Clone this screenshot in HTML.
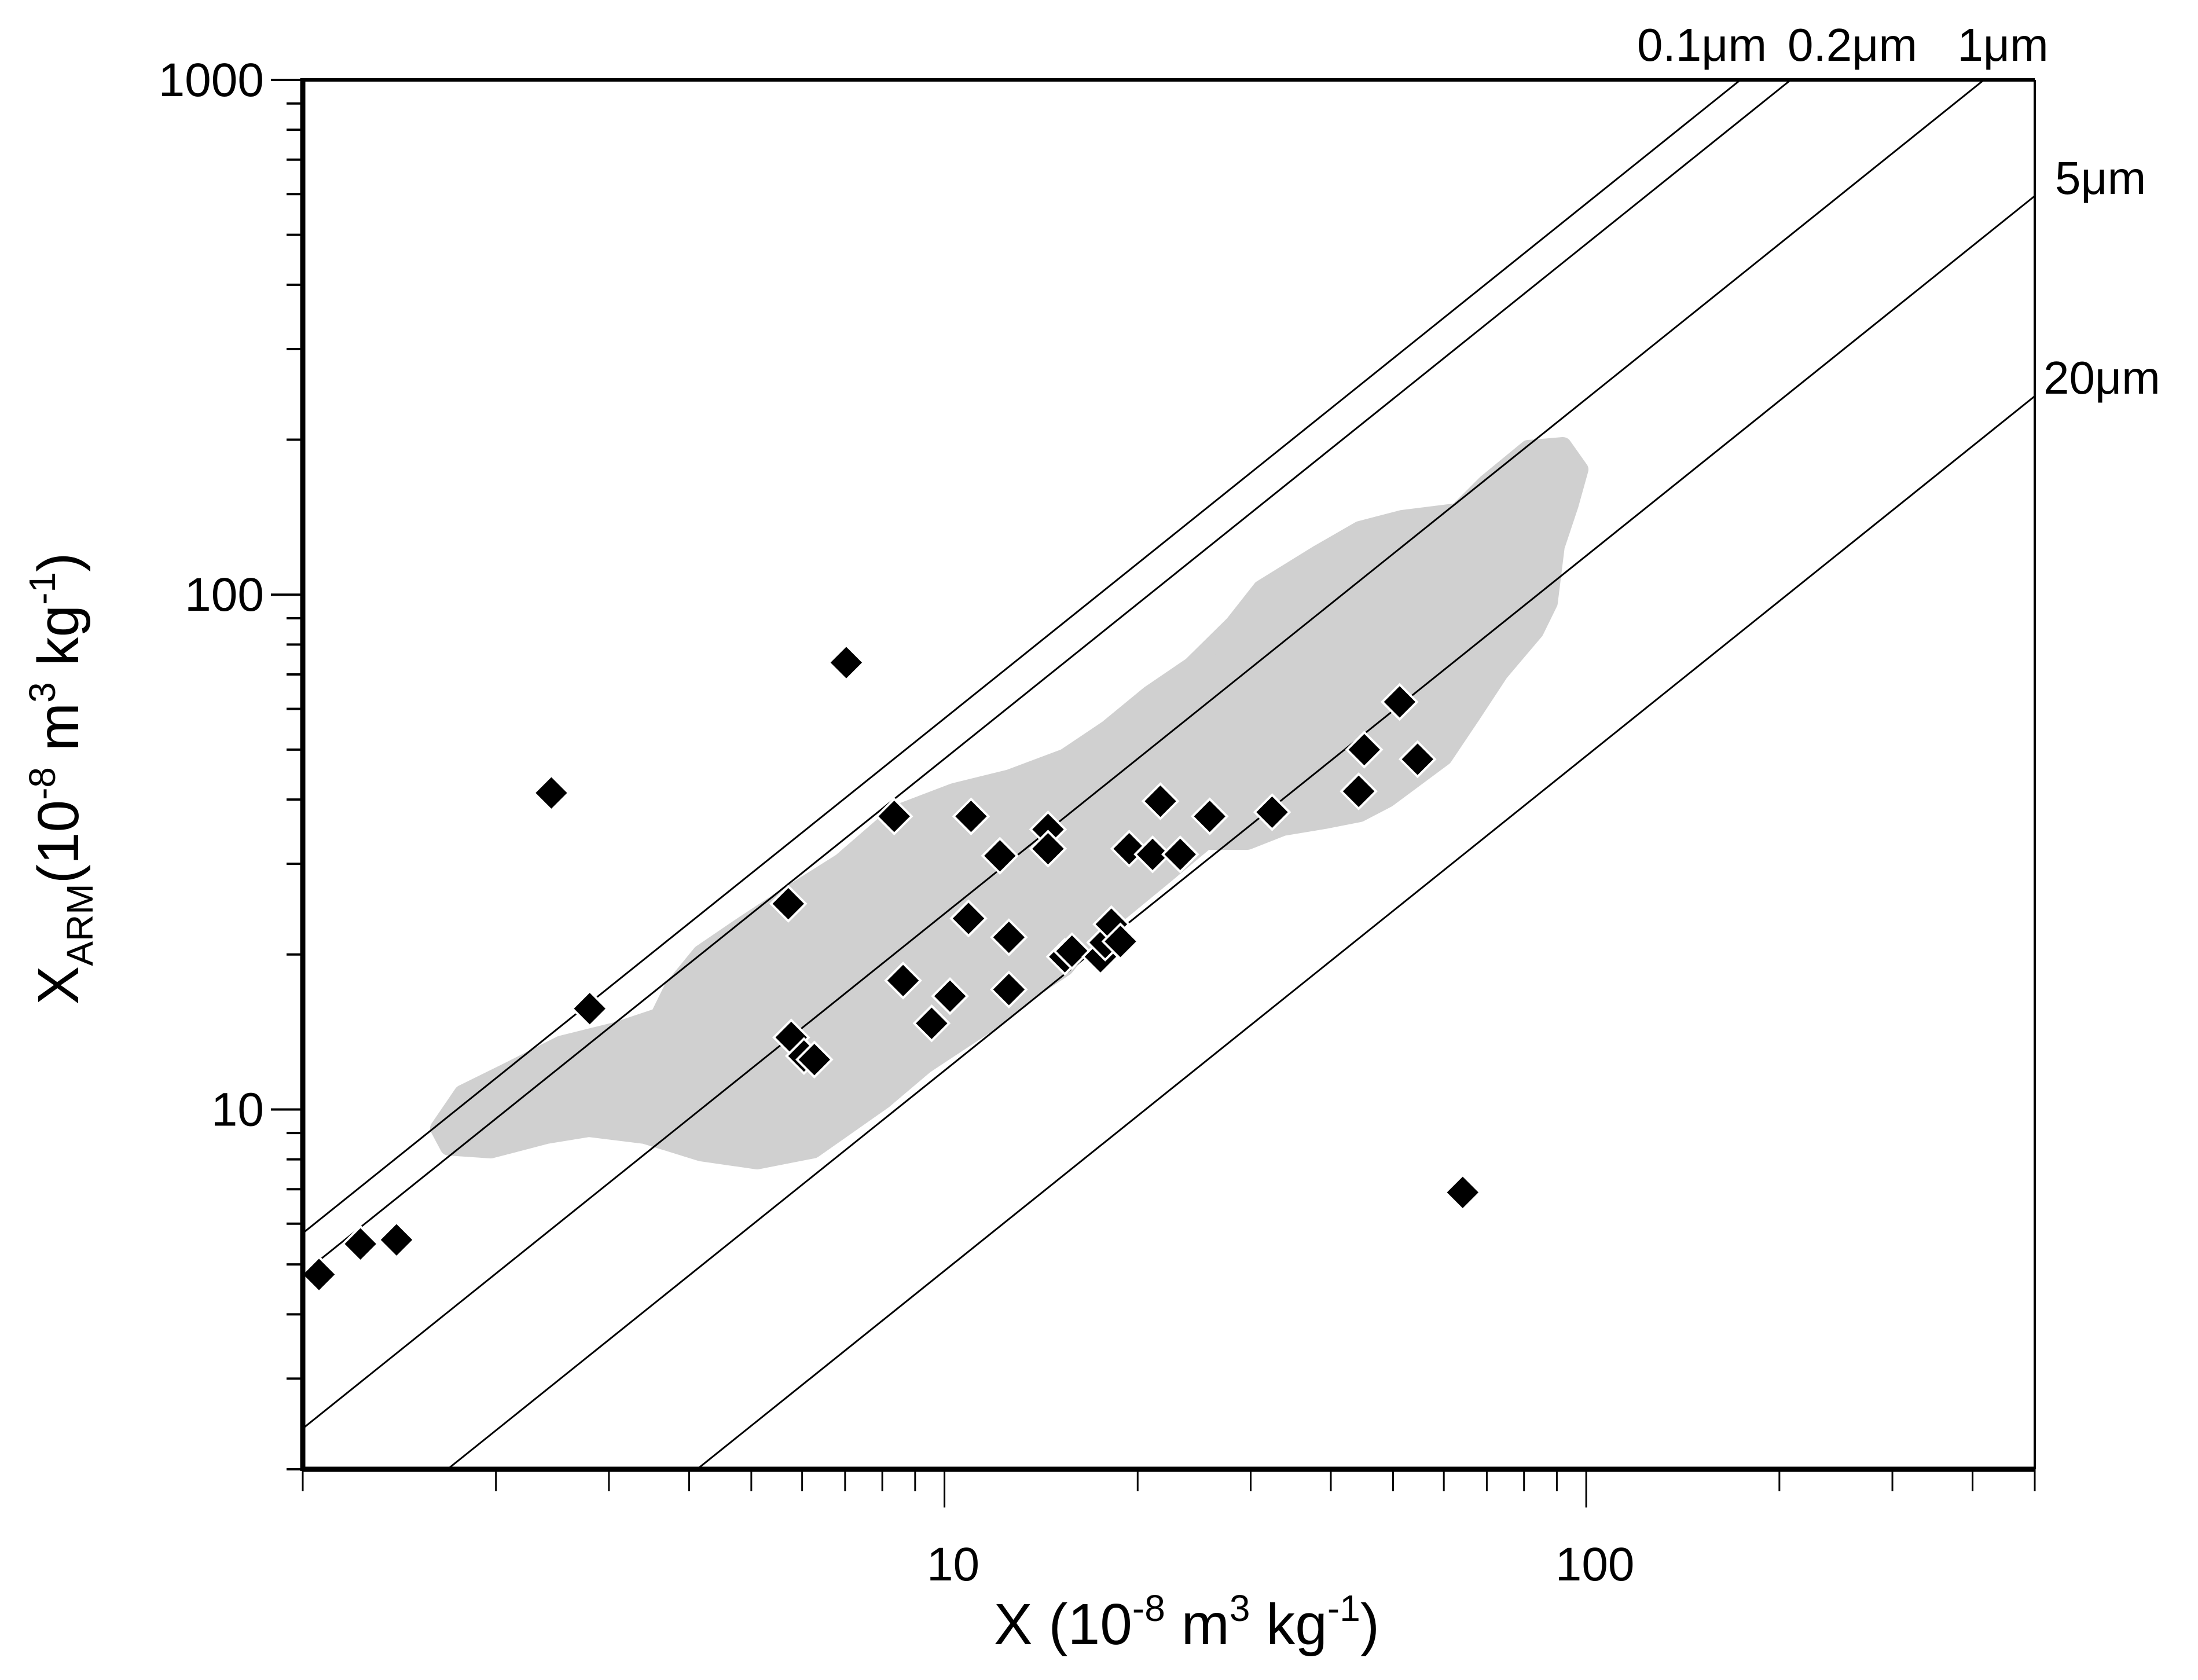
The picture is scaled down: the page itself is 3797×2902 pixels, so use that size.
<!DOCTYPE html>
<html><head><meta charset="utf-8"><style>
html,body{margin:0;padding:0;background:#fff;width:3797px;height:2902px;overflow:hidden;}
svg{display:block;position:absolute;left:0;top:0;}
text{font-family:"Liberation Sans Narrow","Liberation Sans",sans-serif;fill:#000;}
</style></head><body>
<svg id="chart" width="3797" height="2902" viewBox="0 0 3797 2902" xmlns="http://www.w3.org/2000/svg" overflow="hidden">
<g id="region"></g>
<g id="lines"></g>
<g id="points"></g>
<g id="axes"></g>
<g id="labels"></g>
<text x="2050" y="2840" font-size="100" text-anchor="middle">X (10<tspan dy="-40" font-size="64">-8</tspan><tspan dy="40"> m</tspan><tspan dy="-40" font-size="64">3</tspan><tspan dy="40"> kg</tspan><tspan dy="-40" font-size="64">-1</tspan><tspan dy="40">)</tspan></text>
<text transform="translate(135,1345) rotate(-90)" font-size="100" text-anchor="middle">X<tspan dy="25" font-size="64">ARM</tspan><tspan dy="-25">(10</tspan><tspan dy="-40" font-size="64">-8</tspan><tspan dy="40"> m</tspan><tspan dy="-40" font-size="64">3</tspan><tspan dy="40"> kg</tspan><tspan dy="-40" font-size="64">-1</tspan><tspan dy="40">)</tspan></text>
</svg>
<script>
const xVals=[1.06,1.23,1.40,2.44,2.80,5.71,5.77,6.04,6.27,7.03,8.35,8.62,9.55,10.2,11.0,10.9,12.2,12.6,12.6,14.5,14.5,15.4,15.8,17.5,17.8,18.2,18.8,19.4,21.1,21.7,23.3,25.9,32.4,44.2,45.1,51.2,54.6,64.2];
const yVals=[4.78,5.48,5.58,41.2,15.7,25.1,13.8,12.7,12.5,73.8,37.1,17.8,14.7,16.6,37.1,23.5,31.1,21.6,17.1,35.0,32.1,19.8,20.3,19.8,21.1,22.9,21.2,32.1,31.3,39.7,31.3,37.1,37.8,41.5,50.0,61.9,47.9,6.9];
const lineNames=["0.1μm","0.2μm","1μm","5μm","20μm"];
const lineRatios=[5.75,4.8,2.4,1.19,0.486];
const xTickLabels=["10","100"];
const xTickValues=[10,100];
const yTickLabels=["10","100","1000"];
const yTickValues=[10,100,1000];
const xMin=1,xMax=500,yMin=2,yMax=1000;
const L=523,R=3515,T=138,B=2538;
const NS="http://www.w3.org/2000/svg";
function sx(v){return L+(Math.log10(v)-Math.log10(xMin))/(Math.log10(xMax)-Math.log10(xMin))*(R-L);}
function sy(v){return B-(Math.log10(v)-Math.log10(yMin))/(Math.log10(yMax)-Math.log10(yMin))*(B-T);}
function mk(tag,attrs,parent){const e=document.createElementNS(NS,tag);for(const k in attrs)e.setAttribute(k,attrs[k]);parent.appendChild(e);return e;}
const svg=document.getElementById('chart');
let defs=mk('defs',{},svg);let cp=mk('clipPath',{id:'clip'},defs);mk('rect',{x:L,y:T,width:R-L,height:B-T},cp);
const reg=[[313,805],[330,780],[360,765],[400,745],[440,735],[470,725],[480,705],[500,680],[530,660],[560,640],[600,615],[640,580],[680,565],[720,555],[760,540],[790,520],[820,495],[850,475],[880,445],[900,420],[940,395],[970,378],[1000,370],[1040,365],[1060,345],[1090,320],[1115,318],[1127,335],[1120,360],[1110,390],[1105,430],[1095,450],[1070,480],[1050,510],[1030,540],[990,570],[970,580],[945,585],[915,590],[890,600],[860,600],[830,625],[800,650],[780,665],[760,690],[730,710],[705,730],[660,760],[630,785],[580,820],[540,828],[500,822],[460,810],[420,805],[390,810],[350,820],[320,818]];
let rp=mk('polygon',{points:reg.map(p=>(p[0]*2.4216).toFixed(0)+','+(p[1]*2.4216).toFixed(0)).join(' '),fill:'#d0d0d0','stroke':'#d0d0d0','stroke-width':30,'stroke-linejoin':'round'},document.getElementById('region'));


const lg=document.getElementById('lines');lg.setAttribute('clip-path','url(#clip)');
lineRatios.forEach((k,i)=>{
  const l=mk('line',{x1:sx(xMin),y1:sy(k*xMin),x2:sx(xMax),y2:sy(k*xMax),stroke:'#000','stroke-width':3},lg);
  
  
});
const lab=document.getElementById('labels');
const lblPos=[[2940,105,'middle'],[3200,105,'middle'],[3460,105,'middle'],[3550,335,'start'],[3530,680,'start']];
lineNames.forEach((n,i)=>{
  const t=mk('text',{x:lblPos[i][0],y:lblPos[i][1],'font-size':80,'text-anchor':lblPos[i][2]},lab);
  t.textContent=n;
  
  
});
const pg=document.getElementById('points');
xVals.forEach((x,i)=>{
  const cx=sx(x),cy=sy(yVals[i]),r=30;
  const p=mk('polygon',{points:`${cx},${cy-r} ${cx+r},${cy} ${cx},${cy+r} ${cx-r},${cy}`,fill:'#000',stroke:'#fff','stroke-width':4},pg);
  
  
});
const ax=document.getElementById('axes');
mk('line',{x1:L,y1:T,x2:R,y2:T,stroke:'#000','stroke-width':6},ax);
mk('line',{x1:R,y1:T,x2:R,y2:B,stroke:'#000','stroke-width':4},ax);
mk('line',{x1:L,y1:T-3,x2:L,y2:B+3,stroke:'#000','stroke-width':9},ax);
mk('line',{x1:L,y1:B,x2:R,y2:B,stroke:'#000','stroke-width':9},ax);
for(let d=1;d<=100;d*=10){for(let m=1;m<=9;m++){const v=d*m;if(v<xMin||v>xMax)continue;const X=sx(v);const major=(m===1&&v>1);
  mk('line',{x1:X,y1:B,x2:X,y2:B+(major?66:38),stroke:'#000','stroke-width':3},ax);}}
for(let d=1;d<=1000;d*=10){for(let m=1;m<=9;m++){const v=d*m;if(v<yMin||v>yMax)continue;const Y=sy(v);const major=(m===1);
  mk('line',{x1:L-(major?55:28),y1:Y,x2:L,y2:Y,stroke:'#000','stroke-width':4},ax);}}
xTickValues.forEach((v,i)=>{const t=mk('text',{x:sx(v)+15,y:2730,'font-size':82,'text-anchor':'middle'},lab);t.textContent=xTickLabels[i];
  
  });
yTickValues.forEach((v,i)=>{const t=mk('text',{x:456,y:sy(v)+28,'font-size':82,'text-anchor':'end'},lab);t.textContent=yTickLabels[i];
  
  });
</script>
</body></html>
